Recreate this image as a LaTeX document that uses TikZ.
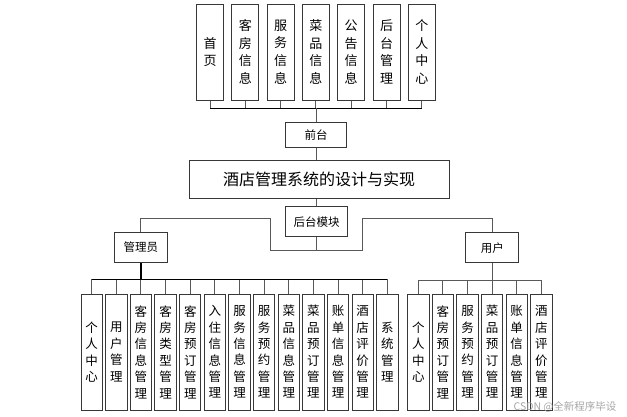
\documentclass[tikz,border=0pt]{standalone}
\usepackage{fontspec}
\setmainfont{Noto Sans CJK SC}
\begin{document}
\begin{tikzpicture}[x=1pt,y=-1pt,
  box/.style={draw=black!78, line width=1pt, inner sep=0pt, align=center},
  tb/.style={box, minimum width=27pt, minimum height=96pt, font=\fontsize{13}{17.7}\selectfont},
  bb/.style={box, minimum width=21.4pt, minimum height=116pt, font=\fontsize{12.5}{16.4}\selectfont},
  lb/.style={box, font=\fontsize{11.5}{14}\selectfont},
  conn/.style={draw=black!65, line width=1pt},
  busline/.style={draw=black, line width=1.1pt},
  stem/.style={draw=black, line width=2pt}]
\useasboundingbox[fill=white] (0,0) rectangle (627,416);

% top row
\foreach \t [count=\i from 0] in {{首\\页},{客\\房\\信\\息},{服\\务\\信\\息},{菜\\品\\信\\息},{公\\告\\信\\息},{后\\台\\管\\理},{个\\人\\中\\心}}
  \node[tb] (t\i) at ({210+35.3*\i},52) {\t};

\node[lb, minimum width=61pt, minimum height=24.6pt] (qt) at (316.2,135) {前台};
\node[box, minimum width=260.3pt, minimum height=38.3pt, font=\fontsize{16}{18}\selectfont] (main) at (319.2,179.2) {酒店管理系统的设计与实现};
\node[lb, minimum width=62pt, minimum height=30pt] (hm) at (316.7,221.7) {后台模块};
\node[lb, minimum width=53pt, minimum height=29.6pt] (gly) at (140.8,247.5) {管理员};
\node[lb, minimum width=53.3pt, minimum height=30pt] (yh) at (492.3,247.7) {用户};

% bottom rows
\foreach \t [count=\i from 0] in {{个\\人\\中\\心},{用\\户\\管\\理},{客\\房\\信\\息\\管\\理},{客\\房\\类\\型\\管\\理},{客\\房\\预\\订\\管\\理},{入\\住\\信\\息\\管\\理},{服\\务\\信\\息\\管\\理},{服\\务\\预\\约\\管\\理},{菜\\品\\信\\息\\管\\理},{菜\\品\\预\\订\\管\\理},{账\\单\\信\\息\\管\\理},{酒\\店\\评\\价\\管\\理},{系\\统\\管\\理}}
  \node[bb] (a\i) at ({91.7+24.64*\i},352) {\t};
\foreach \t [count=\i from 0] in {{个\\人\\中\\心},{客\\房\\预\\订\\管\\理},{服\\务\\预\\约\\管\\理},{菜\\品\\预\\订\\管\\理},{账\\单\\信\\息\\管\\理},{酒\\店\\评\\价\\管\\理}}
  \node[bb] (b\i) at ({418.3+24.6*\i},352) {\t};

% coordinates
\coordinate (topbus) at (316,108);
\coordinate (hb) at (316.7,250.7);
\coordinate (hl) at (270.7,218.3);
\coordinate (hr) at (362.3,218.3);
\coordinate (lbus) at (0,279.3);
\coordinate (rbus) at (0,280);

% top connectors
\foreach \i in {0,...,6} \draw[conn] (t\i.south) -- (t\i.south |- topbus);
\draw[conn, draw=black] (t0.south |- topbus) -- (t6.south |- topbus);
\draw[conn] (qt.north) -- (qt.north |- topbus);
\draw[conn] (qt.south) -- (qt.south |- main.north);
\draw[conn] (main.south -| hm.north) -- (hm.north);

% back-end bracket
\draw[conn] (hm.south) -- (hm.south |- hb) -| (hl) -| (gly.north);
\draw[conn] (hm.south |- hb) -| (hr) -| (yh.north);

% admin tree
\foreach \i in {0,...,12} \draw[conn] (a\i.north) -- (a\i.north |- lbus);
\draw[busline] (a0.north |- lbus) -- (a12.north |- lbus);
\draw[stem] (gly.south) -- (gly.south |- lbus);

% user tree
\foreach \i in {0,...,5} \draw[conn] (b\i.north) -- (b\i.north |- rbus);
\draw[conn] (b0.north |- rbus) -- (b5.north |- rbus);
\draw[conn] (yh.south) -- (yh.south |- rbus);

% watermark
\node[text=black!35, font=\fontsize{10.5}{11}\selectfont, inner sep=0pt] (wm) at (565,406.5) {CSDN @全新程序毕设};
\end{tikzpicture}
\end{document}
